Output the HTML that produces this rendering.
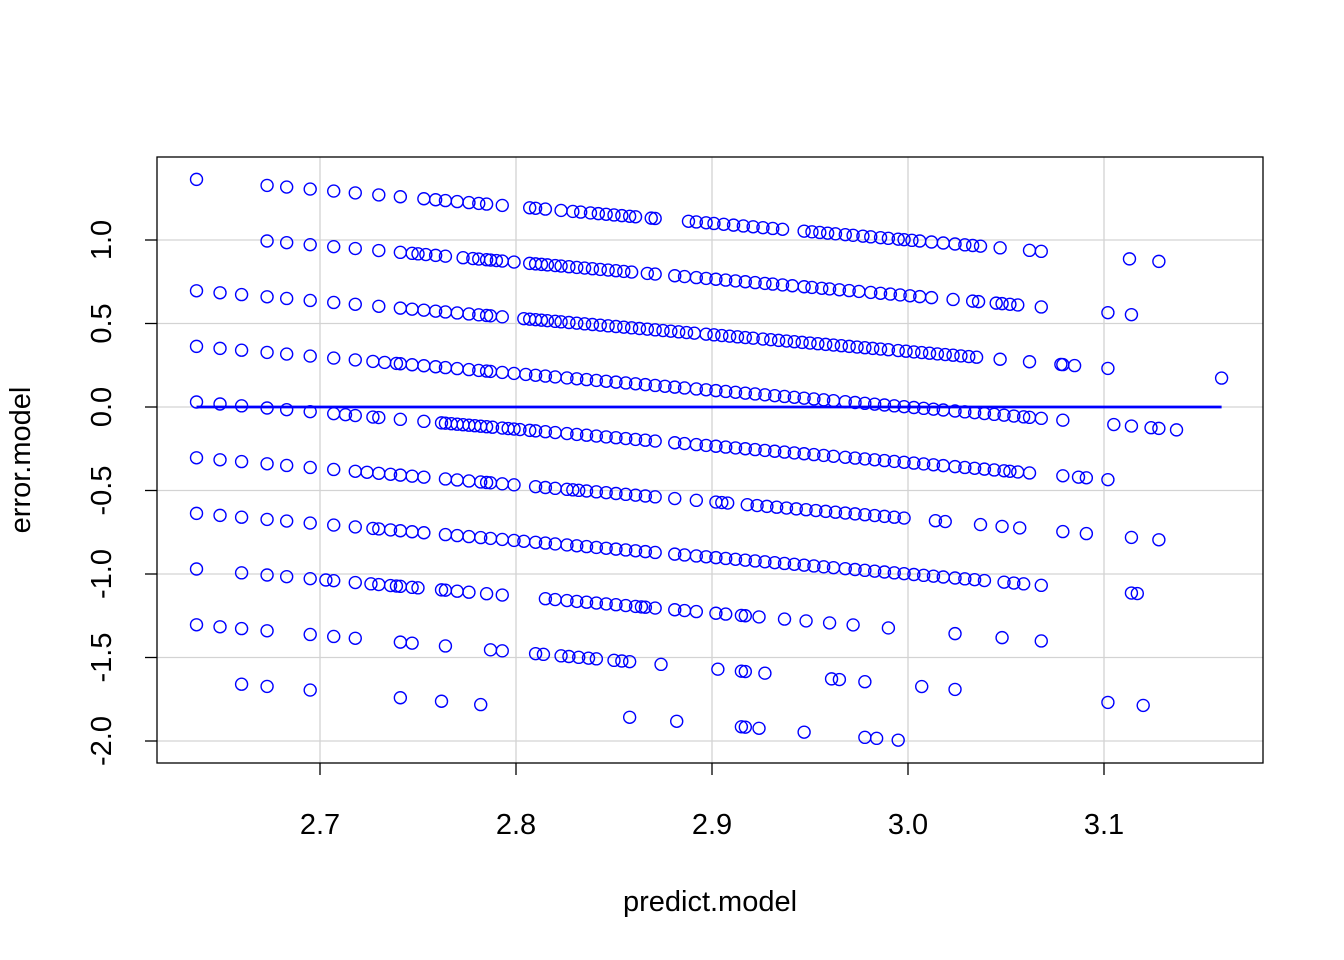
<!DOCTYPE html>
<html>
<head>
<meta charset="utf-8">
<style>
  html, body { margin: 0; padding: 0; background: #fff; }
  svg { display: block; }
  text { font-family: "Liberation Sans", Arial, sans-serif; fill: #000; }
</style>
</head>
<body>
<svg id="chart" width="1344" height="960" viewBox="0 0 1344 960" xmlns="http://www.w3.org/2000/svg">
  <rect x="0" y="0" width="1344" height="960" fill="#fff"/>
  <g id="grid"></g>
  <g id="points"></g>
  <g id="fit"></g>
  <rect x="157" y="157" width="1106" height="606" fill="none" stroke="#000" stroke-width="1.3"/>
  <g id="axes"></g>
  <text x="710" y="911" font-size="29" text-anchor="middle">predict.model</text>
  <text x="0" y="0" font-size="29" text-anchor="middle" transform="translate(36,460) rotate(-90)" dy="-6">error.model</text>
</svg>
<script>
// ---- data ----
const xTicks = [2.7, 2.8, 2.9, 3.0, 3.1];
const xTickLabels = ["2.7", "2.8", "2.9", "3.0", "3.1"];
const yTicks = [-2.0, -1.5, -1.0, -0.5, 0.0, 0.5, 1.0];
const yTickLabels = ["-2.0", "-1.5", "-1.0", "-0.5", "0.0", "0.5", "1.0"];

// observed (actual) value of each band of residuals
const bandActual = [4.0, 3.667, 3.333, 3.0, 2.667, 2.333, 2.0, 1.667, 1.333, 1.0];
// predicted values in each band
const band1Pred = [2.637,2.673,2.683,2.695,2.707,2.718,2.730,2.741,2.753,2.759,2.764,2.770,2.776,2.781,2.785,2.793,2.807,2.810,2.815,2.823,2.829,2.833,2.838,2.842,2.846,2.850,2.854,2.858,2.861,2.869,2.871,2.888,2.892,2.897,2.901,2.906,2.911,2.916,2.921,2.926,2.931,2.936,2.947,2.951,2.955,2.959,2.963,2.968,2.972,2.977,2.981,2.986,2.990,2.995,2.998,3.002,3.006,3.012,3.018,3.024,3.029,3.033,3.037,3.047,3.062,3.068,3.113,3.128];
const band2Pred = [2.673,2.683,2.695,2.707,2.718,2.730,2.741,2.747,2.750,2.754,2.759,2.764,2.773,2.778,2.781,2.785,2.787,2.790,2.793,2.799,2.807,2.810,2.813,2.816,2.820,2.823,2.827,2.831,2.835,2.839,2.843,2.847,2.851,2.855,2.859,2.867,2.871,2.881,2.886,2.892,2.897,2.902,2.907,2.912,2.917,2.922,2.927,2.931,2.936,2.941,2.947,2.951,2.956,2.960,2.965,2.970,2.975,2.981,2.986,2.991,2.996,3.001,3.006,3.012,3.023,3.033,3.036,3.045,3.048,3.052,3.056,3.068,3.102,3.114];
const band3Pred = [2.637,2.649,2.660,2.673,2.683,2.695,2.707,2.718,2.730,2.741,2.747,2.753,2.759,2.764,2.770,2.776,2.781,2.785,2.787,2.793,2.804,2.807,2.810,2.813,2.816,2.820,2.823,2.827,2.831,2.835,2.839,2.843,2.847,2.851,2.855,2.859,2.863,2.867,2.871,2.875,2.879,2.883,2.887,2.891,2.897,2.901,2.905,2.909,2.913,2.917,2.921,2.926,2.930,2.934,2.938,2.942,2.946,2.950,2.954,2.958,2.962,2.966,2.970,2.974,2.978,2.982,2.986,2.990,2.995,2.999,3.003,3.007,3.011,3.015,3.019,3.023,3.027,3.031,3.035,3.047,3.062,3.078,3.079,3.085,3.102,3.160];
const band4Pred = [2.637,2.649,2.660,2.673,2.683,2.695,2.707,2.718,2.727,2.733,2.739,2.741,2.747,2.753,2.759,2.764,2.770,2.776,2.781,2.785,2.787,2.793,2.799,2.805,2.810,2.815,2.820,2.826,2.831,2.836,2.841,2.846,2.851,2.856,2.861,2.866,2.871,2.876,2.881,2.886,2.892,2.897,2.902,2.907,2.912,2.917,2.922,2.927,2.932,2.937,2.942,2.947,2.952,2.957,2.962,2.968,2.973,2.978,2.983,2.988,2.993,2.998,3.003,3.008,3.013,3.018,3.024,3.029,3.034,3.039,3.044,3.049,3.054,3.059,3.062,3.068,3.079,3.105,3.114,3.124,3.128,3.137];
const band5Pred = [2.637,2.649,2.660,2.673,2.683,2.695,2.707,2.713,2.718,2.727,2.730,2.741,2.753,2.762,2.764,2.767,2.770,2.773,2.776,2.779,2.782,2.785,2.788,2.793,2.796,2.799,2.802,2.807,2.810,2.815,2.820,2.826,2.831,2.836,2.841,2.846,2.851,2.856,2.861,2.866,2.871,2.881,2.886,2.892,2.897,2.902,2.907,2.912,2.917,2.922,2.927,2.932,2.937,2.942,2.947,2.952,2.957,2.962,2.968,2.973,2.978,2.983,2.988,2.993,2.998,3.003,3.008,3.013,3.018,3.024,3.029,3.034,3.039,3.044,3.049,3.052,3.056,3.062,3.079,3.087,3.091,3.102];
const band6Pred = [2.637,2.649,2.660,2.673,2.683,2.695,2.707,2.718,2.724,2.730,2.736,2.741,2.747,2.753,2.764,2.770,2.776,2.782,2.785,2.787,2.793,2.799,2.810,2.815,2.820,2.826,2.829,2.832,2.836,2.841,2.846,2.851,2.856,2.861,2.866,2.871,2.881,2.892,2.902,2.905,2.908,2.918,2.923,2.928,2.933,2.938,2.943,2.948,2.953,2.958,2.963,2.968,2.973,2.978,2.983,2.988,2.993,2.998,3.014,3.019,3.037,3.048,3.057,3.079,3.091,3.114,3.128];
const band7Pred = [2.637,2.649,2.660,2.673,2.683,2.695,2.707,2.718,2.727,2.730,2.736,2.741,2.747,2.753,2.764,2.770,2.776,2.782,2.787,2.793,2.799,2.804,2.810,2.815,2.820,2.826,2.831,2.836,2.841,2.846,2.851,2.856,2.861,2.866,2.871,2.881,2.886,2.892,2.897,2.902,2.907,2.912,2.917,2.922,2.927,2.932,2.937,2.942,2.947,2.952,2.957,2.962,2.968,2.973,2.978,2.983,2.988,2.993,2.998,3.003,3.008,3.013,3.018,3.024,3.029,3.034,3.039,3.049,3.054,3.059,3.068,3.114,3.117];
const band8Pred = [2.637,2.660,2.673,2.683,2.695,2.703,2.707,2.718,2.726,2.730,2.736,2.739,2.741,2.747,2.750,2.762,2.764,2.770,2.776,2.785,2.793,2.815,2.820,2.826,2.831,2.836,2.841,2.846,2.851,2.856,2.861,2.864,2.866,2.871,2.881,2.886,2.892,2.902,2.907,2.915,2.917,2.924,2.937,2.948,2.960,2.972,2.990,3.024,3.048,3.068];
const band9Pred = [2.637,2.649,2.660,2.673,2.695,2.707,2.718,2.741,2.747,2.764,2.787,2.793,2.810,2.814,2.823,2.827,2.832,2.837,2.841,2.850,2.854,2.858,2.874,2.903,2.915,2.917,2.927,2.961,2.965,2.978,3.007,3.024,3.102,3.120];
const band10Pred = [2.660,2.673,2.695,2.741,2.762,2.782,2.858,2.882,2.915,2.917,2.924,2.947,2.978,2.984,2.995];
const bandPreds = [band1Pred, band2Pred, band3Pred, band4Pred, band5Pred, band6Pred, band7Pred, band8Pred, band9Pred, band10Pred];

// smoothed residual line
const fitX = [2.637, 3.160];
const fitY = [0.0, 0.0];

// ---- scales ----
const plot = { left: 157, right: 1263, top: 157, bottom: 763 };
function xScale(v) { return 320 + (v - 2.7) * 1960; }
function yScale(v) { return 407 - v * 167; }

const NS = "http://www.w3.org/2000/svg";
function mk(tag, attrs, parent) {
  const el = document.createElementNS(NS, tag);
  for (const k in attrs) el.setAttribute(k, attrs[k]);
  parent.appendChild(el);
  return el;
}

// grid
const grid = document.getElementById('grid');
xTicks.forEach(t => {
  const l = mk('line', { x1: xScale(t), x2: xScale(t), y1: plot.top, y2: plot.bottom, stroke: '#d3d3d3', 'stroke-width': 1.3 }, grid);
  
  
});
yTicks.forEach(t => {
  const l = mk('line', { x1: plot.left, x2: plot.right, y1: yScale(t), y2: yScale(t), stroke: '#d3d3d3', 'stroke-width': 1.3 }, grid);
  
  
});

// points
const pts = document.getElementById('points');
bandPreds.forEach((preds, b) => {
  preds.forEach(p => {
    const resid = bandActual[b] - p;
    const c = mk('circle', { cx: xScale(p), cy: yScale(resid), r: 6, fill: 'none', stroke: '#0000ff', 'stroke-width': 1.4 }, pts);
    
    
  });
});

// fit line
const fit = document.getElementById('fit');
const fl = mk('polyline', { points: fitX.map((x, i) => xScale(x) + ',' + yScale(fitY[i])).join(' '), fill: 'none', stroke: '#0000ff', 'stroke-width': 2.8 }, fit);



// axes
const axes = document.getElementById('axes');
xTicks.forEach((t, i) => {
  const tk = mk('line', { x1: xScale(t), x2: xScale(t), y1: plot.bottom, y2: plot.bottom + 12, stroke: '#000', 'stroke-width': 1.3 }, axes);
  
  
  const tx = mk('text', { x: xScale(t), y: 834, 'font-size': 29, 'text-anchor': 'middle' }, axes);
  tx.textContent = xTickLabels[i];
  
  
});
yTicks.forEach((t, i) => {
  const tk = mk('line', { x1: plot.left - 12, x2: plot.left, y1: yScale(t), y2: yScale(t), stroke: '#000', 'stroke-width': 1.3 }, axes);
  
  
  const tx = mk('text', { x: 0, y: 0, 'font-size': 29, 'text-anchor': 'middle', transform: 'translate(111,' + yScale(t) + ') rotate(-90)' }, axes);
  tx.textContent = yTickLabels[i];
  
  
});
</script>
</body>
</html>
